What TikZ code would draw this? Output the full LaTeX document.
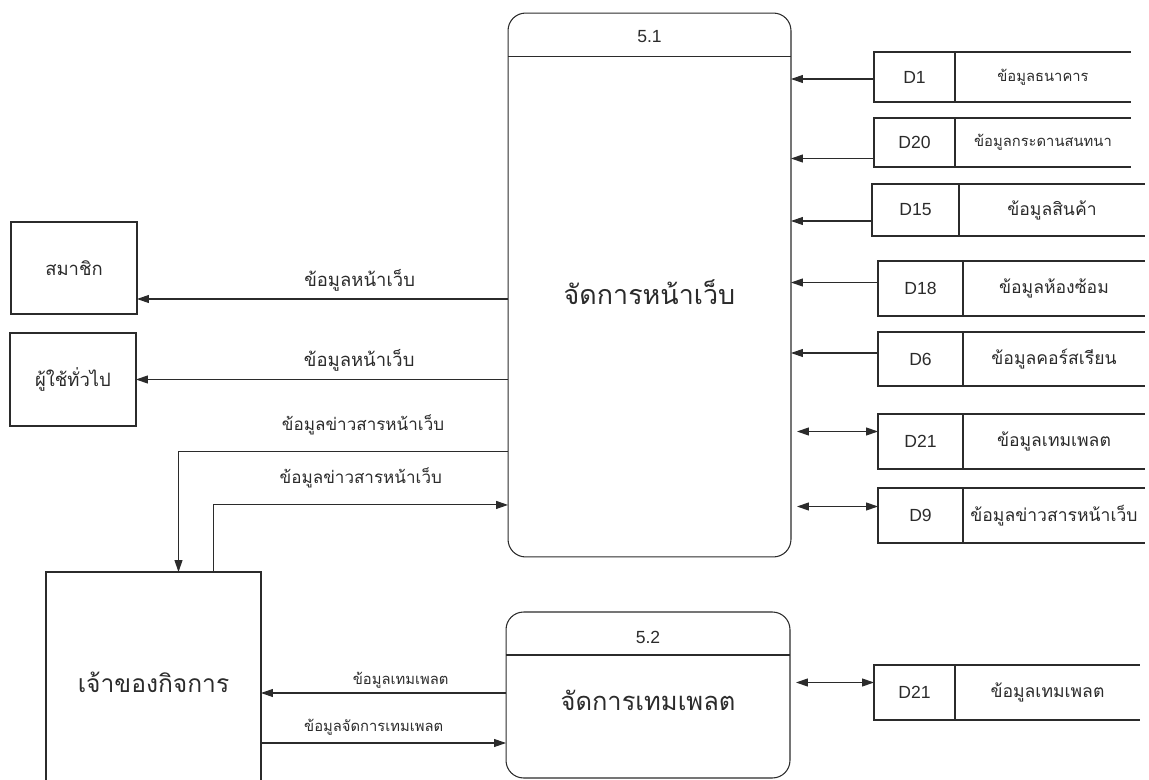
\documentclass[tikz,border=0pt]{standalone}
\usepackage{fontspec}
\setmainfont{Liberation Sans}
\newfontfamily\thaifont[Script=Thai]{Loma}
\usetikzlibrary{arrows.meta, positioning, calc}
\definecolor{LineGray}{HTML}{2B2B2B}

\begin{document}
\begin{tikzpicture}[
    x=0.02cm, y=-0.02cm,
    line/.style={draw=LineGray, line width=0.6pt},
    proc/.style={line, rounded corners=10pt, outer sep=0pt, inner sep=0pt},
    entity/.style={line, outer sep=0pt, inner sep=0pt, text=LineGray, font=\thaifont\fontsize{10.5}{13}\selectfont},
    storeid/.style={outer sep=0pt, inner sep=0pt, text=LineGray, font=\fontsize{10}{12}\selectfont},
    storetxt/.style={outer sep=0pt, inner sep=0pt, text=LineGray, font=\thaifont\fontsize{10}{12}\selectfont},
    small/.style={font=\thaifont\fontsize{8.4}{10}\selectfont},
    flow/.style={line, -{Triangle[length=0.24cm, width=0.16cm]}},
    dflow/.style={line, {Triangle[length=0.24cm, width=0.16cm]}-{Triangle[length=0.24cm, width=0.16cm]}},
    lbl/.style={font=\thaifont\fontsize{10.5}{13}\selectfont, text=LineGray},
    lbls/.style={font=\thaifont\fontsize{9.7}{12}\selectfont, text=LineGray},
    lblt/.style={font=\thaifont\fontsize{8.4}{10}\selectfont, text=LineGray}
]
    \useasboundingbox (0,0) rectangle (1149,780);
    \clip (0,0) rectangle (1149,780);

    % Processes
    \node[proc, minimum width=5.66cm, minimum height=10.88cm] (p51) at (649.5,285) {};
    \node[storeid] (p51id) at ($(p51.north)+(0,23)$) {5.1};
    \draw[line] ($(p51.north west)+(0,43)$) -- ($(p51.north east)+(0,43)$);
    \node[text=LineGray, font=\thaifont\fontsize{15.3}{18}\selectfont] (p51name) at ($(p51.center)+(0,7)$) {จัดการหน้าเว็บ};

    \node[proc, minimum width=5.68cm, minimum height=3.32cm] (p52) at (648,695) {};
    \node[storeid] (p52id) at ($(p52.north)+(0,25)$) {5.2};
    \draw[line] ($(p52.north west)+(0,43)$) -- ($(p52.north east)+(0,43)$);
    \node[text=LineGray, font=\thaifont\fontsize{14.5}{17}\selectfont] (p52name) at ($(p52.center)+(0,5)$) {จัดการเทมเพลต};

    % External entities
    \node[entity, minimum width=2.52cm, minimum height=1.84cm] (member) at (74,268) {สมาชิก};
    \node[entity, minimum width=2.52cm, minimum height=1.86cm] (guest) at (73,379.5) {ผู้ใช้ทั่วไป};
    \node[entity, minimum width=4.3cm, minimum height=4.4cm, font=\thaifont\fontsize{14}{17}\selectfont] (owner) at (153.5,682) {เจ้าของกิจการ};

    % Data stores
    \node[storeid, minimum width=1.62cm, minimum height=1.0cm] (d1) at (914.5,77) {D1};
    \node[storetxt, small, minimum width=3.52cm, minimum height=1.0cm, right=0pt of d1] (d1-txt) {ข้อมูลธนาคาร};
    \node[storeid, minimum width=1.62cm, minimum height=0.98cm] (d20) at (914.5,142.5) {D20};
    \node[storetxt, small, minimum width=3.52cm, minimum height=0.98cm, right=0pt of d20] (d20-txt) {ข้อมูลกระดานสนทนา};
    \node[storeid, minimum width=1.74cm, minimum height=1.04cm] (d15) at (915.5,210) {D15};
    \node[storetxt, minimum width=3.72cm, minimum height=1.04cm, right=0pt of d15] (d15-txt) {ข้อมูลสินค้า};
    \node[storeid, minimum width=1.7cm, minimum height=1.1cm] (d18) at (920.5,288.5) {D18};
    \node[storetxt, minimum width=3.64cm, minimum height=1.1cm, right=0pt of d18] (d18-txt) {ข้อมูลห้องซ้อม};
    \node[storeid, minimum width=1.7cm, minimum height=1.08cm] (d6) at (920.5,359) {D6};
    \node[storetxt, minimum width=3.64cm, minimum height=1.08cm, right=0pt of d6] (d6-txt) {ข้อมูลคอร์สเรียน};
    \node[storeid, minimum width=1.7cm, minimum height=1.1cm] (d21) at (920.5,441.5) {D21};
    \node[storetxt, minimum width=3.64cm, minimum height=1.1cm, right=0pt of d21] (d21-txt) {ข้อมูลเทมเพลต};
    \node[storeid, minimum width=1.7cm, minimum height=1.1cm] (d9) at (920.5,515.5) {D9};
    \node[storetxt, minimum width=3.64cm, minimum height=1.1cm, right=0pt of d9] (d9-txt) {ข้อมูลข่าวสารหน้าเว็บ};
    \node[storeid, minimum width=1.62cm, minimum height=1.1cm] (d21b) at (914.5,692.5) {D21};
    \node[storetxt, minimum width=3.7cm, minimum height=1.1cm, right=0pt of d21b] (d21b-txt) {ข้อมูลเทมเพลต};

    \foreach \s in {d1,d20,d15,d18,d6,d21,d9,d21b}
        \draw[line] (\s-txt.north east) -- (\s.north west) -- (\s.south west) -- (\s-txt.south east)
                    (\s.north east) -- (\s.south east);

    % Store flows
    \draw[flow] ($(d1.west)+(0,2)$) -- ($(p51.east |- d1.west)+(0,2)$);
    \draw[flow] ($(d20.west)+(0,16)$) -- ($(p51.east |- d20.west)+(0,16)$);
    \draw[flow] ($(d15.west)+(0,11)$) -- ($(p51.east |- d15.west)+(0,11)$);
    \draw[flow] ($(d18.west)+(0,-6)$) -- ($(p51.east |- d18.west)+(0,-6)$);
    \draw[flow] ($(d6.west)+(0,-6)$) -- ($(p51.east |- d6.west)+(0,-6)$);
    \draw[dflow] ($(d21.west)+(0,-10)$) -- ($(p51.east |- d21.west)+(6,-10)$);
    \draw[dflow] ($(d9.west)+(0,-9)$) -- ($(p51.east |- d9.west)+(6,-9)$);
    \draw[dflow] ($(d21b.west)+(0,-10)$) -- ($(p52.east |- d21b.west)+(6,-10)$);

    % Entity flows
    \draw[flow] ($(p51.west |- member.east)+(0,31)$) -- ($(member.east)+(0,31)$)
        node[lbl, pos=0.4, above=1pt] {ข้อมูลหน้าเว็บ};
    \draw[flow] (p51.west |- guest.east) -- (guest.east)
        node[lbl, pos=0.4, above=1pt] {ข้อมูลหน้าเว็บ};
    \draw[flow] ($(p51.south west)+(0,-105)$) -| ($(owner.north)+(25,0)$)
        node[lbls, pos=0.22, above=6pt] {ข้อมูลข่าวสารหน้าเว็บ};
    \draw[flow] ($(owner.north)+(60,0)$) |- ($(p51.south west)+(0,-52)$)
        node[lbls, pos=0.75, above=6pt] {ข้อมูลข่าวสารหน้าเว็บ};
    \draw[flow] ($(p52.west)+(0,-2)$) -- ($(owner.east |- p52.west)+(0,-2)$)
        node[lblt, pos=0.43, above=-1pt] {ข้อมูลเทมเพลต};
    \draw[flow] ($(owner.east |- p52.west)+(0,48)$) -- ($(p52.west)+(0,48)$)
        node[lblt, pos=0.46, above=1pt] {ข้อมูลจัดการเทมเพลต};
\end{tikzpicture}
\end{document}
